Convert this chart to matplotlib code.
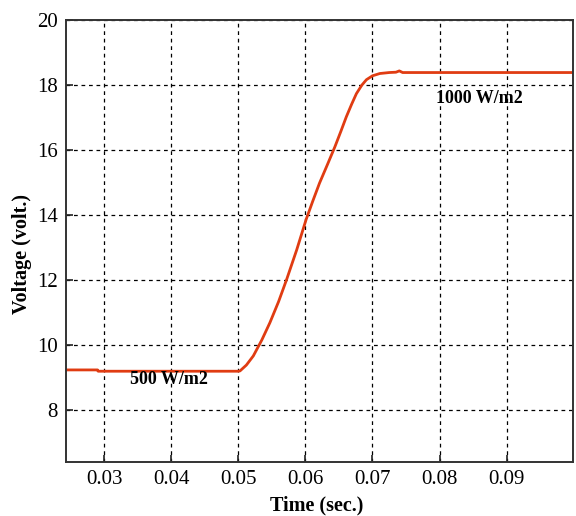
import matplotlib
matplotlib.use("Agg")
import matplotlib.pyplot as plt

# data
time = [0.0243, 0.0290, 0.0291, 0.0500, 0.05025, 0.0512, 0.05223, 0.0535, 0.0547, 0.0560, 0.0572,
        0.0587, 0.0601, 0.0611, 0.0621, 0.0633, 0.0644, 0.0653, 0.0661, 0.0669, 0.0676, 0.0684,
        0.0691, 0.0700, 0.0711, 0.0725, 0.0735, 0.0740, 0.0745, 0.1000]
voltage = [9.23, 9.23, 9.19, 9.19, 9.20, 9.38, 9.66, 10.15, 10.68, 11.33, 12.01,
           12.92, 13.85, 14.42, 14.97, 15.55, 16.09, 16.57, 17.01, 17.40, 17.72, 17.98,
           18.15, 18.27, 18.34, 18.37, 18.38, 18.42, 18.37, 18.37]
xticks = [0.03, 0.04, 0.05, 0.06, 0.07, 0.08, 0.09]
yticks = [8, 10, 12, 14, 16, 18, 20]
labels = ["500 W/m2", "1000 W/m2"]
label_pos = [(0.0397, 8.93), (0.0859, 17.57)]

plt.rcParams['font.family'] = ['Liberation Serif', 'DejaVu Serif']

fig = plt.figure(figsize=(5.76, 5.16), dpi=100)
ax = fig.add_axes([66/576, 1 - 462/516, (573-66)/576, (462-19.5)/516])

ax.plot(time, voltage, color='#e03c12', lw=2.0, solid_joinstyle='round')

ax.set_xlim(0.0243, 0.0999)
ax.set_ylim(6.4, 20)
ax.set_xticks(xticks)
ax.set_xticklabels([f"{t:.2f}" for t in xticks])
ax.set_yticks(yticks)
ax.tick_params(direction='in', length=5, width=1.2, labelsize=15, pad=6, colors='#222222')
for lab in ax.get_xticklabels() + ax.get_yticklabels():
    lab.set_color('black')
ax.grid(True, color='black', linestyle=(0, (3, 3)), linewidth=0.9)
for s in ax.spines.values():
    s.set_linewidth(1.4)
    s.set_color('#333333')

fig.text(317/576, 1 - 505/516, "Time (sec.)", fontsize=14.5, fontweight='bold',
         ha='center', va='center')
fig.text(22/576, 1 - 254/516, "Voltage (volt.)", fontsize=14.5, fontweight='bold',
         ha='center', va='center', rotation=90)

for txt, (x, y) in zip(labels, label_pos):
    ax.text(x, y, txt, fontsize=13, fontweight='bold', ha='center', va='center')

fig.savefig("out.png", dpi=100)
